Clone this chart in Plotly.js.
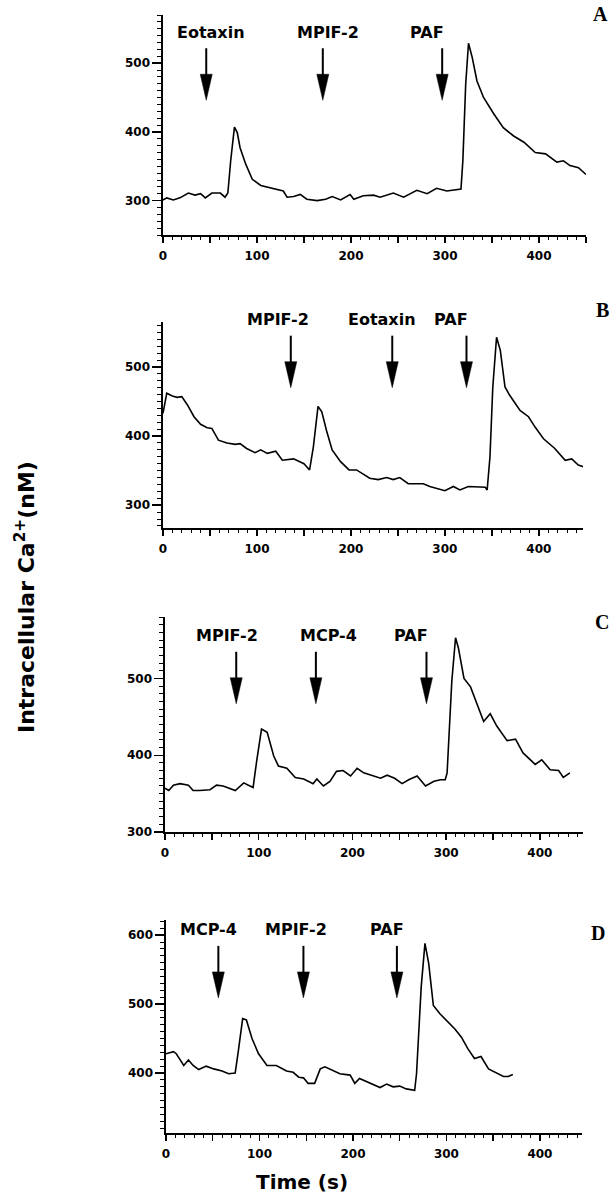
<!DOCTYPE html>
<html>
<head>
<meta charset="utf-8">
<script src="https://cdn.plot.ly/plotly-3.0.1.min.js"></script>
<style>html,body{margin:0;padding:0;background:#fff;}#chart{width:612px;height:1199px;}</style>
</head>
<body>
<div id="chart"></div>
<script>
// ---------- Data ----------
// Panel A
const timeA = [0,4,11,18,27,34,40,45,52,61,66,69,72,76,79,82,88,95,104,114,121,128,132,139,146,153,164,173,180,189,199,203,213,224,231,245,256,270,281,291,302,311,317,319,322,325,329,334,341,352,362,373,384,396,407,419,426,433,442,450];
const caA   = [301,304,301,304,311,308,310,304,311,311,305,311,358,407,399,377,353,331,322,319,317,314,305,306,309,302,300,302,306,301,309,302,307,308,305,311,305,315,310,318,314,316,317,358,469,529,508,474,450,426,406,394,385,370,368,356,358,351,348,338];
const agentsA = ['Eotaxin','MPIF-2','PAF'];
const addTimesA = [46,170,297];
const labelTimesA = [51,175,281];

// Panel B
const timeB = [0,4,10,15,20,26,33,40,47,52,59,68,77,82,89,98,104,111,120,127,139,150,156,160,165,169,174,180,189,198,206,220,229,238,245,252,261,277,284,300,309,316,325,334,343,345,348,351,355,359,364,369,380,389,396,405,417,428,435,442,449,453];
const caB   = [433,462,458,456,457,445,428,417,412,411,394,390,388,389,382,376,380,375,378,365,367,360,351,384,443,435,408,380,363,351,351,339,337,340,337,340,331,331,327,321,327,322,327,326,326,322,370,471,543,524,471,459,437,428,413,396,382,365,367,358,355,348];
const agentsB = ['MPIF-2','Eotaxin','PAF'];
const addTimesB = [136,244,323];
const labelTimesB = [122,233,307];

// Panel C
const timeC = [0,4,9,16,25,30,37,48,55,62,75,84,89,94,98,103,109,116,121,130,139,148,158,162,169,176,183,190,198,205,212,221,230,237,245,253,260,269,278,287,294,299,301,306,310,313,319,326,333,340,347,354,365,374,382,395,402,411,420,425,432];
const caC   = [357,354,361,363,361,354,354,355,361,360,354,364,361,358,394,434,430,399,386,383,371,369,363,369,360,366,379,380,373,383,377,373,370,374,370,363,368,373,360,366,368,368,377,496,553,540,500,489,467,444,454,438,419,421,403,388,394,381,380,371,377];
const agentsC = ['MPIF-2','MCP-4','PAF'];
const addTimesC = [76,161,279];
const labelTimesC = [66,174,263];

// Panel D
const timeD = [0,8,11,19,24,29,35,43,51,60,67,74,77,82,86,92,99,108,118,129,136,142,147,152,159,165,170,179,186,197,202,207,218,229,236,243,250,257,266,268,273,277,281,286,293,300,309,316,323,330,337,345,352,361,366,371];
const caD   = [428,431,428,411,419,411,405,410,406,403,399,400,428,479,477,450,428,411,411,403,401,394,393,385,385,406,409,404,399,397,385,392,385,379,384,380,381,377,375,399,525,588,559,498,486,477,464,452,435,421,424,406,401,395,395,398];
const agentsD = ['MCP-4','MPIF-2','PAF'];
const addTimesD = [56,147,247];
const labelTimesD = [45,139,236];

const panelLetters = ['A','B','C','D'];
const arrowTipValues = [446,470,467,509];
const xTickVals = [0,50,100,150,200,250,300,350,400,450];
const xTickText = ['0','','100','','200','','300','','400',''];
const yTitleText = 'Intracellular Ca<sup>2+</sup>(nM)';
const xTitleText = 'Time (s)';

// ---------- Layout / styling ----------
const panels = [
  {t:timeA, v:caA, agents:agentsA, add:addTimesA, lab:labelTimesA, xr:[0,450], yr:[250,570], xd:[163/612,586/612], yd:[1-235/1199,1-15/1199], letterPos:[600,14]},
  {t:timeB, v:caB, agents:agentsB, add:addTimesB, lab:labelTimesB, xr:[0,447], yr:[267,565], xd:[163/612,583/612], yd:[1-528/1199,1-322/1199], letterPos:[602,310]},
  {t:timeC, v:caC, agents:agentsC, add:addTimesC, lab:labelTimesC, xr:[0,446], yr:[300,580], xd:[165/612,583/612], yd:[1-832/1199,1-617/1199], letterPos:[602,622]},
  {t:timeD, v:caD, agents:agentsD, add:addTimesD, lab:labelTimesD, xr:[0,445], yr:[313,622], xd:[166/612,582/612], yd:[1-1133/1199,1-920/1199], letterPos:[598,933]}
];

const tickFont = {family:'DejaVu Sans, Arial, sans-serif', size:12, color:'#000', weight:'bold'};
const labelFont = {family:'DejaVu Sans, Arial, sans-serif', size:16, color:'#000', weight:'bold'};

const traces = [];
const layout = {
  width:612, height:1199,
  margin:{l:0,r:0,t:0,b:0},
  paper_bgcolor:'#fff', plot_bgcolor:'#fff',
  showlegend:false,
  shapes:[], annotations:[]
};

panels.forEach((p,i)=>{
  const n = i===0 ? '' : String(i+1);
  const xa = 'x'+n, ya = 'y'+n;
  traces.push({x:p.t, y:p.v, xaxis:xa, yaxis:ya, type:'scatter', mode:'lines',
    line:{color:'#000', width:1.6}, hoverinfo:'skip'});
  layout['xaxis'+n] = {
    domain:p.xd, range:p.xr, anchor:ya,
    showline:true, linecolor:'#000', linewidth:1.6,
    showgrid:false, zeroline:false,
    ticks:'outside', ticklen:6, tickwidth:1.4, tickcolor:'#000',
    tickmode:'array', tickvals:xTickVals, ticktext:xTickText,
    tickfont:tickFont, ticklabelstandoff:3,
    minor:{ticks:'outside', ticklen:3, tickwidth:1, tickcolor:'#000', dtick:10, tick0:0, showgrid:false}
  };
  layout['yaxis'+n] = {
    domain:p.yd, range:p.yr, anchor:xa,
    showline:true, linecolor:'#000', linewidth:1.6,
    showgrid:false, zeroline:false,
    ticks:'outside', ticklen:9, tickwidth:1.4, tickcolor:'#000',
    tick0:0, dtick:100, tickfont:tickFont,
    minor:{ticks:'outside', ticklen:4, tickwidth:1, tickcolor:'#000', dtick:10, tick0:0, showgrid:false}
  };
  const tip = arrowTipValues[i];
  p.add.forEach((tx,k)=>{
    layout.shapes.push({type:'line', xref:xa, yref:ya, xsizemode:'pixel', ysizemode:'pixel',
      xanchor:tx, yanchor:tip, x0:0, x1:0, y0:24, y1:52, line:{color:'#000', width:2}});
    layout.shapes.push({type:'path', xref:xa, yref:ya, xsizemode:'pixel', ysizemode:'pixel',
      xanchor:tx, yanchor:tip, path:'M-6,26 L6,26 L0,0 Z', fillcolor:'#000', line:{color:'#000', width:0.5}});
    layout.annotations.push({x:p.lab[k], y:tip, xref:xa, yref:ya, text:p.agents[k], showarrow:false,
      yshift:68, font:labelFont, xanchor:'center', yanchor:'middle'});
  });
  layout.annotations.push({x:p.letterPos[0]/612, y:1-p.letterPos[1]/1199, xref:'paper', yref:'paper',
    text:panelLetters[i], showarrow:false, xanchor:'center', yanchor:'middle',
    font:{family:'Liberation Serif, Times New Roman, serif', size:20, color:'#000', weight:'bold'}});
});

layout.annotations.push({x:25/612, y:1-597/1199, xref:'paper', yref:'paper', text:yTitleText,
  textangle:-90, showarrow:false, xanchor:'center', yanchor:'middle',
  font:{family:'DejaVu Sans, Arial, sans-serif', size:22, color:'#000', weight:'bold'}});
layout.annotations.push({x:302/612, y:1-1182/1199, xref:'paper', yref:'paper', text:xTitleText,
  showarrow:false, xanchor:'center', yanchor:'middle',
  font:{family:'DejaVu Sans, Arial, sans-serif', size:20, color:'#000', weight:'bold'}});

Plotly.newPlot('chart', traces, layout, {staticPlot:true, displayModeBar:false});
</script>
</body>
</html>
